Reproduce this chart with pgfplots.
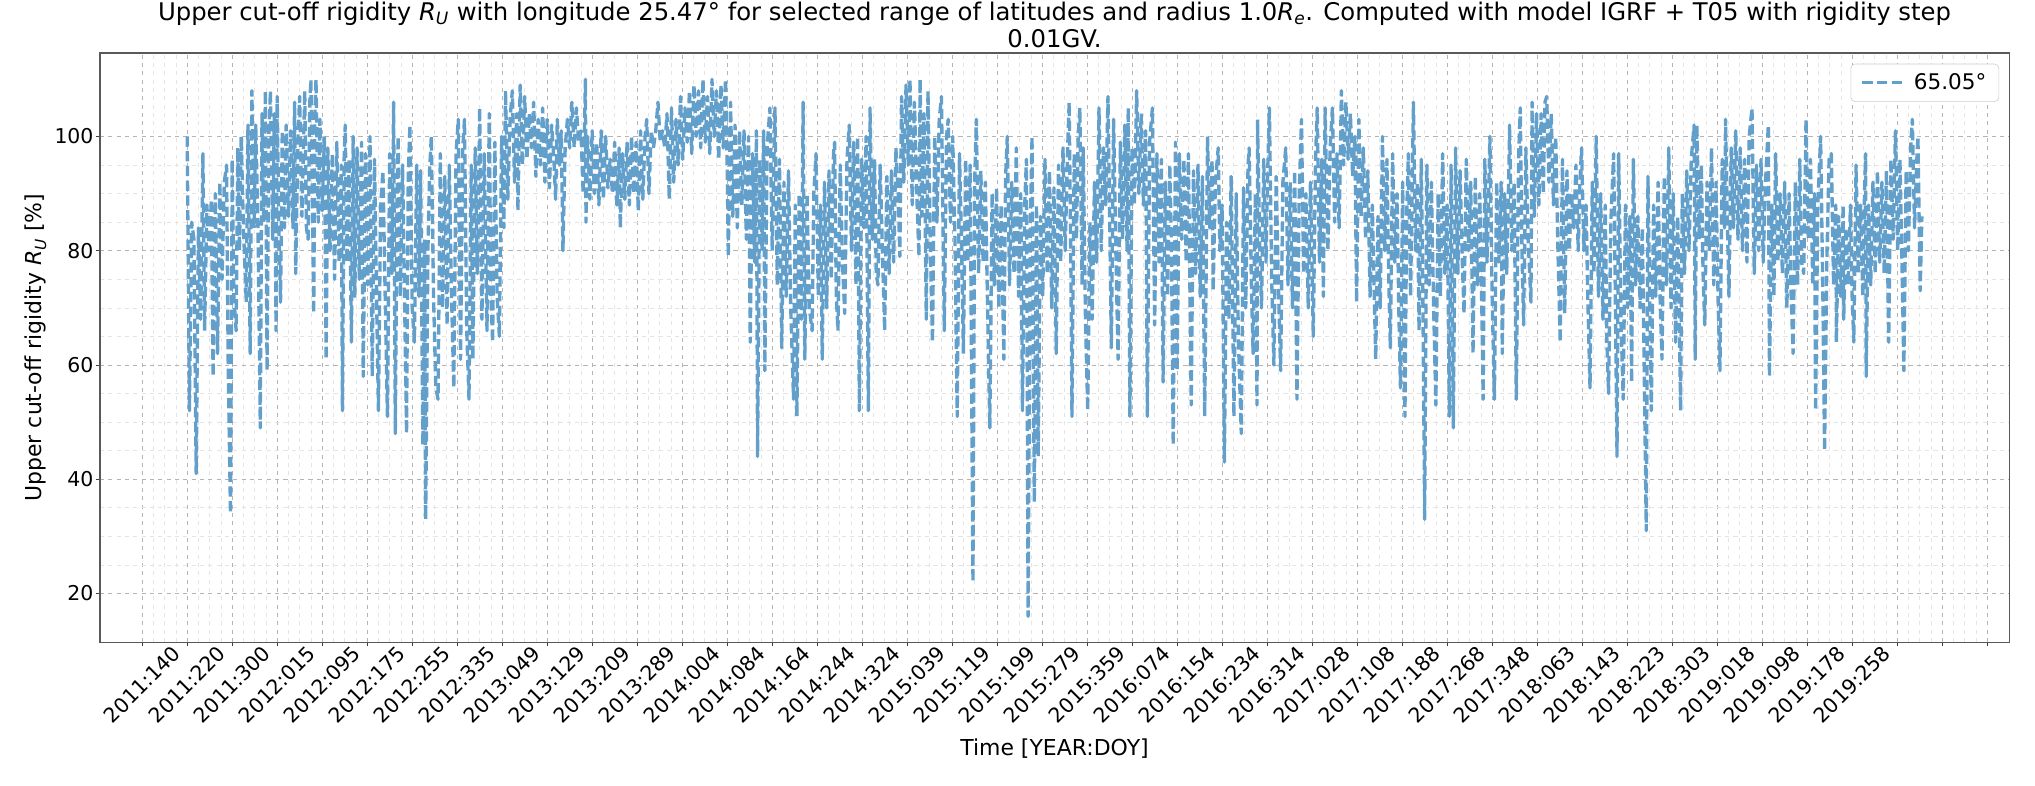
\documentclass[border=0pt]{standalone}
\usepackage{fontspec}
\setmainfont{DejaVu Sans}[ItalicFont={DejaVu Sans Oblique}, BoldFont={DejaVu Sans Bold}, BoldItalicFont={DejaVu Sans Bold Oblique}]
\usepackage{pgfplots}
\pgfplotsset{compat=1.18}
\definecolor{lineblue}{RGB}{98,160,203}
\definecolor{gridmaj}{RGB}{180,180,180}
\definecolor{gridmin}{RGB}{228,228,228}
\newcommand{\tickfont}{\fontsize{14.7}{17}\selectfont}
\newcommand{\labfont}{\fontsize{15.8}{19}\selectfont}
\newcommand{\titfont}{\fontsize{17.5}{19.5}\selectfont}

\begin{document}
\begin{tikzpicture}
\begin{axis}[
    scale only axis,
    width=1374.5pt, height=424.1pt,
    xmin=-75, xmax=3319, ymin=11.5, ymax=114.6,
    xtick={0,80,...,3280},
    xticklabels={2011:140,2011:220,2011:300,2012:015,2012:095,2012:175,2012:255,2012:335,2013:049,2013:129,2013:209,2013:289,2014:004,2014:084,2014:164,2014:244,2014:324,2015:039,2015:119,2015:199,2015:279,2015:359,2016:074,2016:154,2016:234,2016:314,2017:028,2017:108,2017:188,2017:268,2017:348,2018:063,2018:143,2018:223,2018:303,2019:018,2019:098,2019:178,2019:258,{},{},{}},
    ytick={20,40,60,80,100},
    minor x tick num=3, minor y tick num=3,
    grid=both,
    major grid style={gridmaj, dashed, line width=0.6pt},
    minor grid style={gridmin, dashed, line width=0.5pt},
    tick align=outside, xtick pos=bottom, ytick pos=left,
    major tick length=3pt, minor tick length=0pt,
    tick style={black!75, line width=0.7pt},
    axis line style={black!65, line width=0.8pt},
    tick label style={font=\tickfont},
    /pgf/number format/assume math mode=true,
    yticklabel style={inner xsep=1.5pt},
    xticklabel style={rotate=45, anchor=center},
    xticklabel shift=27.5pt,
    title={Upper cut-off rigidity \textit{R}\textsubscript{\textit{U}} with longitude 25.47° for selected range of latitudes and radius 1.0\textit{R}\textsubscript{\textit{e}}. Computed with model IGRF + T05 with rigidity step\\0.01GV.},
    title style={font=\titfont, align=center, at={(0.5,1)}, anchor=south, inner sep=0pt, yshift=-2.5pt},
    xlabel={Time [YEAR:DOY]},
    xlabel style={font=\labfont, at={(axis description cs:0.5,-0.1816)}, anchor=center},
    ylabel={Upper cut-off rigidity \textit{R}\textsubscript{\textit{U}} [\%]},
    ylabel style={font=\labfont, at={(axis description cs:-0.0336,0.5)}, anchor=center},
    legend style={at={(1,1)}, anchor=north east, xshift=-7.2pt, yshift=-7.7pt, draw=black!20, rounded corners=3pt, fill=white, font=\fontsize{15.5}{18}\selectfont, inner xsep=7pt, inner ysep=5pt},
    legend image code/.code={\draw[#1] (0pt,0pt) -- (29pt,0pt);},
]
% upper cut-off rigidity, latitude 65.05 deg
\addplot[lineblue, line width=2.4pt, dash pattern=on 7.4pt off 3.2pt, line join=round, mark=none] coordinates {
(80,100) (84,52) (88,85) (92,82) (96,41) (100,84) (104,68) (108,97) (111,66) (115,88) (119,80) (123,89) (126,58) (130,90) (134,62) (138,92) (142,75) (146,92) (150,95) (153,59) (157,34)
(160,96) (163,72) (167,66) (170,98) (173,80) (176,100) (180,84) (185,71) (188,102) (192,62) (195,108) (199,84) (202,102) (206,83) (210,49) (213,104) (216,85) (219,108) (222,59) (225,100) (228,108) (232,82) (235,104) (238,66) (240,107) (243,84) (246,71) (249,101) (253,84) (256,102) (260,86) (264,101) (268,84) (271,106) (273,76) (277,100) (280,107) (284,86) (289,108) (292,84) (295,82) (298,106) (300,110) (303,86) (305,69) (307,104) (309,110) (313,85) (316,103) (320,87) (324,100) (327,61) (330,98) (334,80) (338,97) (342,75) (346,99) (350,78) (354,95) (356,52) (359,96) (361,102) (364,78) (368,96) (372,64) (375,100) (378,72) (382,98) (386,75) (390,99) (393,58) (397,97) (401,74) (405,100) (409,58) (413,96) (417,70) (420,52) (424,88) (428,94) (432,72) (436,51) (440,97) (444,76) (447,106) (450,48) (453,88) (455,100) (459,72) (463,95) (467,68) (470,48) (473,93) (476,102) (480,70) (484,64) (488,95) (492,72) (495,94) (499,46) (502,82) (504,33) (508,80) (511,94) (514,100) (518,72) (522,56) (526,54) (530,97) (534,70) (538,93) (542,67) (546,95) (550,72) (554,56) (558,97) (562,103) (566,61) (570,98) (573,103) (577,66) (581,54) (585,95) (588,61) (592,98) (596,76) (600,105) (604,68) (608,97) (613,66) (617,104) (620,72) (623,64) (627,99) (631,72) (635,65) (639,100) (643,84) (646,108) (650,89)
(654,103) (658,108) (662,92) (666,104) (668,87) (672,109) (676,95) (680,107) (684,96) (688,104) (692,98) (696,106) (700,93) (704,103) (708,95) (712,105) (716,92) (720,103) (724,91) (728,102) (732,96) (735,89) (738,103) (742,95) (745,101) (748,80) (752,98) (756,103) (760,98) (764,106) (768,98) (772,105) (776,99) (780,101) (784,90) (788,110) (789,85) (792,100) (796,89) (800,101) (804,90) (808,99) (812,88) (816,101) (820,89) (824,100) (828,91) (832,96) (836,90) (840,99) (844,88) (848,98) (850,84) (854,97) (858,89) (862,99) (866,88) (870,100) (874,90) (878,99) (882,87) (886,101) (890,89) (894,100) (897,103) (901,90) (905,101) (909,98) (913,101) (917,106) (921,99) (925,101) (929,98) (933,104) (937,89) (941,105) (945,92) (949,103) (953,95) (957,107) (961,96) (965,105) (969,99) (973,108) (977,97) (981,109) (985,100) (989,108) (993,98) (997,110) (1001,99) (1005,107) (1009,97) (1013,110) (1017,100) (1021,108) (1025,96) (1029,109) (1033,98) (1037,110) (1040,95) (1042,79) (1046,106) (1050,86) (1054,102) (1058,84) (1062,101) (1066,88) (1070,101) (1074,82) (1078,100) (1081,64) (1085,97) (1089,78) (1092,101) (1094,44) (1098,96) (1102,80) (1105,101) (1107,59) (1111,98) (1116,105) (1120,80) (1125,105) (1129,74) (1133,96) (1137,63) (1141,92) (1145,72) (1149,94) (1153,70) (1158,54) (1161,88) (1164,51) (1168,90) (1172,68) (1175,106) (1178,61) (1182,90) (1186,70) (1191,66) (1194,90) (1198,97) (1202,72) (1206,88) (1209,61) (1213,92) (1217,70) (1221,94) (1225,75) (1229,97) (1231,99) (1234,72) (1237,66)
(1241,95) (1245,78) (1249,69) (1253,96) (1257,102) (1261,80) (1265,99) (1269,74) (1272,100) (1275,52) (1279,96) (1283,84) (1287,100) (1291,52) (1294,105) (1298,82) (1302,96) (1305,76) (1308,74) (1312,95) (1316,80) (1320,66) (1324,93) (1328,76) (1332,94) (1336,78) (1340,98) (1344,90) (1347,79) (1350,107) (1354,92) (1358,109) (1362,95) (1365,110) (1369,88) (1373,106) (1377,90) (1381,79) (1383,110) (1386,86) (1390,104) (1394,68) (1397,108) (1401,82) (1405,64) (1409,100) (1413,85) (1417,103) (1421,107) (1426,66) (1430,100) (1433,103) (1437,85) (1441,100) (1445,82) (1449,51) (1453,97) (1457,80) (1460,62) (1464,96) (1468,78) (1472,95) (1477,22) (1480,92) (1483,103) (1487,76) (1491,94) (1495,78) (1499,92) (1503,70) (1507,49) (1511,90) (1515,74) (1519,91) (1523,70) (1527,88) (1532,61) (1535,93) (1538,100) (1542,74) (1546,92) (1550,76) (1554,98) (1558,72) (1562,90) (1565,52) (1569,88) (1572,96) (1575,16) (1579,84) (1582,100) (1586,36) (1590,88) (1593,44) (1597,86) (1601,72) (1605,96) (1609,76) (1613,94) (1617,70) (1621,91) (1625,62) (1629,95) (1633,78) (1637,98) (1641,80) (1645,97) (1648,106) (1651,78) (1653,51) (1657,97) (1661,82) (1664,100) (1667,105) (1671,74) (1673,98) (1677,68) (1681,52) (1685,85) (1689,68) (1693,92) (1697,78) (1701,105) (1705,80) (1709,98) (1713,88) (1717,107) (1720,86) (1723,63) (1727,103) (1731,80) (1735,61) (1739,99) (1743,82) (1747,102) (1751,80) (1753,105) (1756,51) (1760,98) (1764,88) (1768,108) (1772,90) (1776,104) (1780,88) (1784,101) (1787,51) (1791,99) (1796,105) (1800,67) (1804,97) (1808,78) (1812,96) (1815,57) (1819,92) (1823,72) (1827,95)
(1830,80) (1833,46) (1837,99) (1840,59) (1844,97) (1848,82) (1852,96) (1856,78) (1860,97) (1865,53) (1869,94) (1873,76) (1877,95) (1881,72) (1885,93) (1889,51) (1894,100) (1898,84) (1902,96) (1904,73) (1908,92) (1913,98) (1916,80) (1920,88) (1924,43) (1928,85) (1932,68) (1936,93) (1941,51) (1945,90) (1949,64) (1954,48) (1958,91) (1962,70) (1966,95) (1968,98) (1972,74) (1975,62) (1979,90) (1982,53) (1983,103) (1987,80) (1990,70) (1994,96) (1998,78) (2001,94) (2004,105) (2008,75) (2012,60) (2016,93) (2020,74) (2024,59) (2028,92) (2033,98) (2037,74) (2041,92) (2045,70) (2049,94) (2053,54) (2057,90) (2061,103) (2065,76) (2069,90) (2073,70) (2077,92) (2082,65) (2086,96) (2089,105) (2093,78) (2097,96) (2100,72) (2103,105) (2108,80) (2112,98) (2116,105) (2120,85) (2124,97) (2128,84) (2132,108) (2136,95) (2140,106) (2144,96) (2148,104) (2152,93) (2156,100) (2159,71) (2163,103) (2167,86) (2171,98) (2175,82) (2179,94) (2183,72) (2187,88) (2190,74) (2193,61) (2197,86) (2201,70) (2205,100) (2209,80) (2213,96) (2216,76) (2219,63) (2223,97) (2227,78) (2231,90) (2234,70) (2237,56) (2241,92) (2245,51) (2248,86) (2251,97) (2255,72) (2260,106) (2264,80) (2267,92) (2270,66) (2274,96) (2277,70) (2280,33) (2284,95) (2288,74) (2292,92) (2296,70) (2300,53) (2304,90) (2308,72) (2312,97) (2316,76) (2320,88) (2324,51) (2327,95) (2331,49) (2335,98) (2339,76) (2343,94) (2347,78) (2350,69) (2354,96) (2358,80) (2362,92) (2366,62) (2370,93) (2374,74) (2378,90) (2382,68) (2384,54) (2387,96) (2391,78) (2396,100) (2400,72) (2404,54) (2408,92)
(2412,78) (2416,92) (2418,62) (2422,90) (2426,76) (2430,96) (2431,102) (2435,80) (2439,92) (2443,54) (2447,96) (2450,105) (2453,80) (2456,67) (2460,98) (2464,82) (2469,71) (2471,106) (2475,86) (2479,104) (2483,88) (2487,104) (2491,90) (2494,106) (2497,107) (2501,92) (2505,104) (2509,88) (2513,100) (2517,80) (2521,64) (2525,96) (2529,69) (2533,94) (2537,80) (2541,90) (2545,84) (2549,95) (2553,80) (2556,92) (2559,98) (2563,80) (2567,88) (2570,72) (2574,56) (2578,92) (2581,76) (2585,100) (2589,72) (2593,90) (2597,68) (2601,88) (2604,64) (2607,55) (2611,85) (2616,97) (2619,72) (2622,44) (2625,97) (2629,68) (2633,54) (2637,88) (2641,70) (2645,86) (2648,57) (2651,96) (2655,74) (2659,86) (2663,70) (2667,84) (2670,62) (2674,31) (2677,93) (2680,72) (2683,52) (2687,88) (2691,72) (2695,92) (2699,70) (2702,61) (2706,93) (2710,74) (2714,98) (2718,70) (2722,90) (2726,64) (2730,86) (2735,52) (2738,90) (2742,76) (2746,94) (2750,80) (2754,96) (2759,102) (2761,61) (2764,102) (2768,82) (2772,95) (2775,76) (2778,67) (2782,92) (2786,80) (2790,98) (2794,74) (2798,92) (2802,70) (2805,59) (2809,96) (2813,84) (2815,103) (2818,86) (2821,72) (2825,98) (2829,84) (2833,101) (2837,82) (2841,98) (2845,80) (2849,96) (2853,78) (2857,100) (2862,105) (2866,76) (2870,95) (2874,80) (2878,96) (2882,78) (2886,92) (2891,102) (2893,58) (2897,88) (2901,72) (2904,97) (2908,78) (2912,90)
(2916,76) (2920,92) (2924,70) (2928,90) (2931,74) (2935,62) (2939,92) (2943,74) (2947,96) (2950,78) (2954,76) (2958,103) (2962,82) (2966,96) (2970,74) (2973,90) (2975,52) (2979,88) (2984,100) (2988,72) (2991,45) (2995,78) (2999,96) (3003,97) (3007,74) (3011,88) (3012,64) (3016,86) (3020,72) (3024,88) (3025,68) (3029,84) (3033,74) (3037,88) (3040,72) (3043,64) (3047,95) (3051,76) (3055,88) (3059,72) (3062,90) (3064,97) (3065,58) (3069,88) (3073,74) (3077,92) (3081,76) (3085,94) (3089,78) (3093,92) (3097,76) (3101,94) (3105,64) (3109,96) (3113,82) (3117,101) (3121,80) (3125,96) (3129,76) (3132,59) (3136,94) (3140,80) (3144,98) (3147,103) (3151,84) (3155,96) (3157,100) (3161,73) (3164,86)
};
\addlegendentry{\hspace{5pt}65.05°}
\end{axis}
\pgfresetboundingbox
\useasboundingbox (-72pt,-103pt) rectangle (1393.2pt,462.3pt);
\end{tikzpicture}
\end{document}
